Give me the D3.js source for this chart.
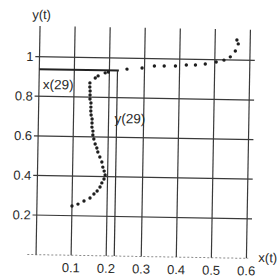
<!DOCTYPE html>
<html>
<head>
<meta charset="utf-8">
<script src="https://cdn.jsdelivr.net/npm/d3@7"></script>
<style>
html,body{margin:0;padding:0;background:#fff;}
svg{display:block;}
text{font-family:"Liberation Sans",Arial,Helvetica,sans-serif;fill:#2a2a2a;}
</style>
</head>
<body>
<svg id="chart" width="278" height="280"></svg>
<script>
// Data
const xs = [0.100,0.117,0.134,0.151,0.162,0.171,0.179,0.184,0.190,0.193,
            0.190,0.186,0.183,0.177,0.171,0.168,0.163,0.159,0.156,0.156,
            0.153,0.153,0.153,0.150,0.149,0.149,0.149,0.146,0.146,0.146,
            0.145,0.145,0.160,0.168,0.188,0.197,0.250,0.293,0.328,0.356,
            0.388,0.419,0.445,0.473,0.504,0.526,0.544,0.558,0.566,0.562];
const ys = [0.249,0.259,0.275,0.291,0.311,0.327,0.347,0.368,0.388,0.408,
            0.428,0.448,0.474,0.499,0.524,0.544,0.564,0.589,0.609,0.629,
            0.649,0.670,0.690,0.710,0.730,0.750,0.771,0.791,0.811,0.831,
            0.851,0.872,0.897,0.908,0.924,0.929,0.945,0.952,0.963,0.964,
            0.965,0.971,0.972,0.978,0.989,0.999,1.016,1.046,1.082,1.102];
const xTicks = [0.1,0.2,0.3,0.4,0.5,0.6];
const xTickLabels = ["0.1","0.2","0.3","0.4","0.5","0.6"];
const yTicks = [0.2,0.4,0.6,0.8,1];
const yTickLabels = ["0.2","0.4","0.6","0.8","1"];
const xGrid = [0,0.1,0.2,0.3,0.4,0.5,0.6];
const x29 = 0.223, y29 = 0.937;

const svg = d3.select("#chart");
const x = d3.scaleLinear().domain([0,0.6]).range([37.9,248.3]);
const y = d3.scaleLinear().domain([0,1]).range([256.5,58.5]);

// scanned page is rotated by about one degree
const g = svg.append("g").attr("transform","rotate(1,143,150)");

// bottom axis (faint dotted)
g.append("line")
  .attr("x1",x(-0.025)).attr("x2",x(0.605))
  .attr("y1",y(0)).attr("y2",y(0))
  .attr("stroke","#8a8a8a").attr("stroke-width",1)
  .attr("stroke-dasharray","2,2");

// vertical grid lines
g.selectAll("line.vg").data(xGrid).enter().append("line")
  .attr("class","vg")
  .attr("x1",d=>x(d)).attr("x2",d=>x(d))
  .attr("y1",y(0)).attr("y2",y(1.155))
  .attr("stroke","#3a3a3a").attr("stroke-width",1.2);

// horizontal grid lines
g.selectAll("line.hg").data(yTicks).enter().append("line")
  .attr("class","hg")
  .attr("x1",x(-0.012)).attr("x2",x(0.614))
  .attr("y1",d=>y(d)).attr("y2",d=>y(d))
  .attr("stroke","#3a3a3a").attr("stroke-width",1.2);

// x(29), y(29) guide lines
g.append("line")
  .attr("x1",x(0)).attr("x2",x(x29+0.004))
  .attr("y1",y(y29)).attr("y2",y(y29))
  .attr("stroke","#222").attr("stroke-width",2);
g.append("line")
  .attr("x1",x(x29)).attr("x2",x(x29))
  .attr("y1",y(y29)).attr("y2",y(0))
  .attr("stroke","#333").attr("stroke-width",1.2);

// points
g.selectAll("circle").data(xs.map((v,i)=>[v,ys[i]])).enter().append("circle")
  .attr("cx",d=>x(d[0])).attr("cy",d=>y(d[1]))
  .attr("r",1.7).attr("fill","#1e1e1e");

// tick labels
g.selectAll("text.xt").data(xTicks).enter().append("text")
  .attr("class","xt")
  .attr("x",d=>x(d)).attr("y",y(0)+17)
  .attr("text-anchor","middle").attr("font-size",13)
  .text((d,i)=>xTickLabels[i]);
g.selectAll("text.yt").data(yTicks).enter().append("text")
  .attr("class","yt")
  .attr("x",x(0)-6).attr("y",d=>y(d)+4.5)
  .attr("text-anchor","end").attr("font-size",13)
  .text((d,i)=>yTickLabels[i]);

// axis titles and annotations
g.append("text").attr("x",x(0)-8).attr("y",y(1.19))
  .attr("font-size",13).text("y(t)");
g.append("text").attr("x",x(0.6)+12).attr("y",y(0)+3.5)
  .attr("font-size",13).text("x(t)");
g.append("text").attr("x",x(0.011)).attr("y",y(0.837))
  .attr("font-size",13.5).text("x(29)");
g.append("text").attr("x",x(x29)-2).attr("y",y(0.672))
  .attr("font-size",13.5).text("y(29)");
</script>
</body>
</html>
